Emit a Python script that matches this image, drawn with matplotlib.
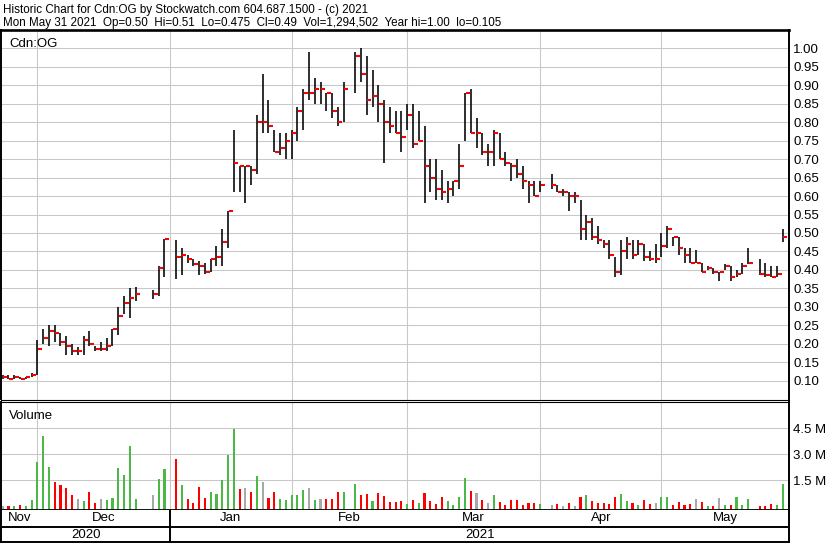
import numpy as np
import pandas as pd
import matplotlib
matplotlib.use('Agg')
import matplotlib.pyplot as plt

plt.rcParams['font.family'] = ['Liberation Sans', 'DejaVu Sans']

nan = np.nan

# one slot per weekday, exchange holidays stay empty
dates = pd.bdate_range('2020-11-23', '2021-05-31')

high = [0.115, 0.115, 0.115, 0.11, 0.11, 0.12, 0.21, 0.24, 0.25, 0.25,
        0.23, 0.22, 0.20, 0.19, 0.22, 0.235, 0.195, 0.205, 0.215, 0.24,
        0.30, 0.33, 0.35, 0.355, nan, nan, 0.345, 0.41, 0.485, nan,
        0.48, 0.46, 0.44, 0.43, 0.425, 0.42, 0.43, 0.465, 0.51, 0.56,
        0.78, 0.68, 0.68, 0.68, 0.82, 0.93, 0.86, 0.78, 0.77, 0.77,
        0.78, 0.84, 0.89, 0.99, 0.92, 0.91, 0.88, 0.88, 0.84, 0.91,
        nan, 0.99, 1.00, 0.98, 0.94, 0.90, 0.86, 0.84, 0.83, 0.83,
        0.85, 0.85, 0.83, 0.79, 0.70, 0.70, 0.67, 0.64, 0.64, 0.74,
        0.88, 0.89, 0.81, 0.77, 0.74, 0.78, 0.77, 0.72, 0.69, 0.70,
        0.68, 0.64, 0.64, 0.64, nan, 0.66, 0.63, 0.62, 0.61, 0.61,
        0.59, 0.55, 0.54, 0.52, 0.48, 0.48, 0.435, 0.48, 0.49, 0.48,
        0.48, 0.47, 0.45, 0.47, 0.50, 0.52, 0.49, 0.49, 0.46, 0.46,
        0.455, 0.42, 0.41, 0.405, 0.395, 0.415, 0.41, 0.40, 0.42, 0.46,
        nan, 0.43, 0.42, 0.41, 0.41, 0.51]

low = [0.105, 0.105, 0.105, 0.105, 0.105, 0.11, 0.115, 0.20, 0.195, 0.205,
       0.195, 0.17, 0.17, 0.17, 0.17, 0.195, 0.18, 0.18, 0.18, 0.195,
       0.225, 0.28, 0.27, 0.315, nan, nan, 0.32, 0.33, 0.38, nan,
       0.375, 0.385, 0.42, 0.41, 0.385, 0.39, 0.395, 0.41, 0.41, 0.46,
       0.61, 0.61, 0.58, 0.63, 0.66, 0.77, 0.77, 0.72, 0.71, 0.70,
       0.70, 0.75, 0.78, 0.86, 0.85, 0.85, 0.83, 0.81, 0.79, 0.80,
       nan, 0.88, 0.91, 0.82, 0.84, 0.80, 0.69, 0.77, 0.77, 0.72,
       0.78, 0.73, 0.75, 0.58, 0.61, 0.59, 0.59, 0.58, 0.60, 0.62,
       0.75, 0.77, 0.73, 0.71, 0.68, 0.68, 0.70, 0.68, 0.64, 0.65,
       0.62, 0.58, 0.60, 0.61, nan, 0.62, 0.61, 0.60, 0.56, 0.58,
       0.48, 0.48, 0.48, 0.47, 0.46, 0.43, 0.38, 0.385, 0.43, 0.43,
       0.44, 0.425, 0.425, 0.42, 0.435, 0.46, 0.465, 0.44, 0.42, 0.42,
       0.42, 0.395, 0.40, 0.39, 0.37, 0.40, 0.37, 0.38, 0.39, 0.415,
       nan, 0.385, 0.38, 0.38, 0.38, 0.475]

close = [0.11, 0.105, 0.11, 0.105, 0.11, 0.115, 0.185, 0.215, 0.235, 0.23,
         0.205, 0.195, 0.18, 0.18, 0.21, 0.20, 0.185, 0.185, 0.195, 0.24,
         0.275, 0.31, 0.325, 0.335, nan, nan, 0.335, 0.405, 0.485, nan,
         0.435, 0.44, 0.43, 0.415, 0.41, 0.395, 0.43, 0.435, 0.475, 0.56,
         0.69, 0.68, 0.68, 0.67, 0.80, 0.80, 0.79, 0.72, 0.73, 0.75,
         0.77, 0.83, 0.88, 0.88, 0.89, 0.89, 0.88, 0.83, 0.80, 0.89,
         nan, 0.98, 0.93, 0.86, 0.87, 0.85, 0.80, 0.79, 0.77, 0.76,
         0.82, 0.74, 0.75, 0.68, 0.65, 0.62, 0.61, 0.62, 0.64, 0.68,
         0.88, 0.77, 0.77, 0.72, 0.72, 0.77, 0.70, 0.69, 0.68, 0.66,
         0.64, 0.63, 0.60, 0.63, nan, 0.63, 0.61, 0.61, 0.60, 0.60,
         0.51, 0.53, 0.49, 0.48, 0.47, 0.44, 0.395, 0.45, 0.47, 0.44,
         0.47, 0.435, 0.43, 0.43, 0.465, 0.51, 0.49, 0.46, 0.44, 0.42,
         0.42, 0.395, 0.405, 0.395, 0.395, 0.41, 0.38, 0.39, 0.41, 0.42,
         nan, 0.39, 0.385, 0.38, 0.39, 0.49]

# millions of shares
volume = [0.02, 0.02, 0.02, 0.05, 0.02, 0.37, 2.56, 4.06, 2.27, 1.40,
          1.23, 1.06, 0.65, 0.42, 0.31, 0.83, 0.19, 0.42, 0.37, 0.48,
          2.21, 1.81, 3.48, 0.42, nan, nan, 0.65, 1.58, 2.15, nan,
          2.73, 1.23, 0.42, 0.19, 1.12, 0.48, 0.83, 0.71, 1.52, 2.96,
          4.46, 1.00, 1.06, 0.83, 1.75, 1.40, 0.48, 0.83, 0.42, 0.37,
          0.65, 0.65, 0.94, 1.06, 0.37, 0.42, 0.42, 0.42, 0.83, 0.83,
          nan, 1.29, 0.65, 0.71, 0.31, 0.77, 0.60, 0.25, 0.25, 0.31,
          0.13, 0.37, 0.19, 0.77, 0.31, 0.13, 0.54, 0.31, 0.08, 0.54,
          1.63, 0.88, 0.77, 0.37, 0.19, 0.65, 0.25, 0.08, 0.37, 0.37,
          0.08, 0.19, 0.19, 0.13, nan, 0.08, 0.13, 0.02, 0.19, 0.02,
          0.54, 0.65, 0.31, 0.19, 0.19, 0.13, 0.54, 0.71, 0.31, 0.19,
          0.08, 0.37, 0.13, 0.19, 0.54, 0.54, 0.08, 0.25, 0.08, 0.13,
          0.42, 0.25, 0.02, 0.01, 0.48, 0.08, 0.08, 0.54, 0.08, 0.42,
          nan, 0.01, 0.02, 0.13, 0.08, 1.29]

prev_close = 0.11

price_ticks = np.arange(0.10, 1.001, 0.05)
vol_ticks = [1.5, 3.0, 4.5]
vol_labels = ['1.5 M', '3.0 M', '4.5 M']
months = ['2020-12-01', '2021-01-01', '2021-02-01', '2021-03-01', '2021-04-01', '2021-05-01']
month_labels = ['Nov', 'Dec', 'Jan', 'Feb', 'Mar', 'Apr', 'May']
year_labels = ['2020', '2021']
title1 = 'Historic Chart for Cdn:OG by Stockwatch.com 604.687.1500 - (c) 2021'
title2 = 'Mon May 31 2021  Op=0.50  Hi=0.51  Lo=0.475  Cl=0.49  Vol=1,294,502  Year hi=1.00  lo=0.105'

df = pd.DataFrame({'high': high, 'low': low, 'close': close, 'volume': volume}, index=dates)
x = np.arange(len(df))
last = df['close'].ffill().shift(1).fillna(prev_close)
green, red, grey = '#4cb848', '#ff0000', '#a8a8a8'
colors = np.where(df['close'] > last, green, np.where(df['close'] < last, red, grey))

# month boundaries: slot of the 1st, or the weekday before it
bounds = [dates.searchsorted(pd.Timestamp(m), side='right') - 1 for m in months]
xmin, xmax = -0.294, 136.08

W, H = 830, 543
def box(l, t, r, b):
    return [l / W, 1 - b / H, (r - l) / W, (b - t) / H]

fig = plt.figure(figsize=(8.3, 5.43), dpi=100)
ax = fig.add_axes(box(1, 30, 789, 399.5))
axv = fig.add_axes(box(1, 401.5, 789, 509.5))
axd = fig.add_axes(box(1, 509.5, 789, 542))

gridc = '#c8c8c8'

# price panel
ax.vlines(x, df['low'], df['high'], color='black', lw=1.15)
ax.hlines(df['close'], x + 0.1, x + 0.8, color=red, lw=1.5)
ax.set_xlim(xmin, xmax)
ax.set_ylim(0.0492, 1.0495)
ax.set_yticks(price_ticks)
ax.set_yticklabels(['%.2f' % t for t in price_ticks])
ax.set_xticks(bounds)
ax.yaxis.tick_right()
ax.tick_params(axis='y', length=0, pad=3, labelsize=9.5)
ax.tick_params(axis='x', length=0, labelbottom=False)
ax.grid(True, color=gridc, lw=0.75)
ax.set_axisbelow(True)
ax.spines['top'].set_linewidth(1.9)
ax.spines['left'].set_linewidth(1.4)
ax.spines['right'].set_linewidth(1.4)
ax.spines['bottom'].set_linewidth(0.8)
ax.text(0.01, 0.955, 'Cdn:OG', transform=ax.transAxes, fontsize=9.5)

# volume panel
vbase = -0.183
axv.bar(x, df['volume'] - vbase, bottom=vbase, width=0.36, color=colors)
axv.set_xlim(xmin, xmax)
axv.set_ylim(vbase, 6.05)
axv.set_yticks(vol_ticks)
axv.set_yticklabels(vol_labels)
axv.set_xticks(bounds)
axv.yaxis.tick_right()
axv.tick_params(axis='y', length=0, pad=3, labelsize=9.5)
axv.tick_params(axis='x', length=0, labelbottom=False)
axv.grid(True, color=gridc, lw=0.75)
axv.set_axisbelow(True)
axv.spines['top'].set_linewidth(0.8)
axv.spines['bottom'].set_linewidth(1.3)
axv.spines['left'].set_linewidth(1.4)
axv.spines['right'].set_linewidth(1.4)
axv.text(0.01, 0.84, 'Volume', transform=axv.transAxes, fontsize=9.5)

# date rows
axd.set_xlim(xmin, xmax)
axd.set_ylim(0, 1)
axd.set_xticks([])
axd.set_yticks([])
axd.spines['top'].set_visible(False)
for s in ['left', 'right', 'bottom']:
    axd.spines[s].set_linewidth(1.4)
axd.axhline(0.47, color='black', lw=1.4)
axd.axvline(bounds[1], color='black', lw=1.4)
edges = [xmin] + bounds + [xmax]
for i, lab in enumerate(month_labels):
    axd.text((edges[i] + edges[i + 1]) / 2, 0.73, lab, ha='center', va='center', fontsize=9.5)
yedges = [xmin, bounds[1], xmax]
for i, lab in enumerate(year_labels):
    axd.text((yedges[i] + yedges[i + 1]) / 2, 0.22, lab, ha='center', va='center', fontsize=9.5)

fig.text(3 / W, 1 - 12.7 / H, title1, fontsize=8.4, va='baseline')
fig.text(3 / W, 1 - 26 / H, title2, fontsize=8.4, va='baseline')

fig.savefig('out.png', dpi=100)
